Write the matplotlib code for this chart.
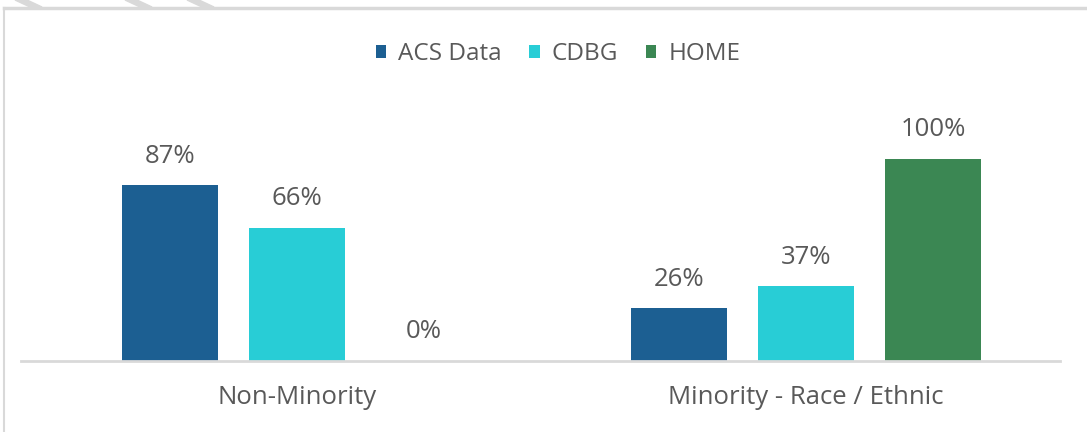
import matplotlib.pyplot as plt
from matplotlib.patches import Polygon
from matplotlib.lines import Line2D
import numpy as np

# Data
categories = ['Non-Minority', 'Minority - Race / Ethnic']
series = ['ACS Data', 'CDBG', 'HOME']
acs = [0.87, 0.26]
cdbg = [0.66, 0.37]
home = [0.00, 1.00]
colors = ['#1C5F92', '#28CDD6', '#3B8753']

plt.rcParams['font.family'] = ['Open Sans', 'DejaVu Sans']
text_col = '#595959'
fs = 18.5

fig = plt.figure(figsize=(10.87, 4.32), dpi=100)
W, H = 1087, 432

# axes placed in pixel terms: baseline at y=361, plot from x=21 to 1060
ax = fig.add_axes([21 / W, 1 - 361 / H, (1060 - 21) / W, (361 - 80) / H])

x = np.arange(len(categories))
step = 0.25
width = 0.189
for i, (name, vals) in enumerate(zip(series, [acs, cdbg, home])):
    pos = x + (i - 1) * step
    bars = ax.bar(pos, vals, width, color=colors[i], label=name, zorder=2)
    for b, v in zip(bars, vals):
        ax.annotate('{:.0%}'.format(v), (b.get_x() + b.get_width() / 2, v),
                    xytext=(0, 12), textcoords='offset points',
                    ha='center', va='bottom', fontsize=fs, color=text_col)

ax.set_xlim(-0.542, 1.499)
ax.set_ylim(0, 281 / 202)
ax.set_yticks([])
ax.set_xticks(x)
ax.set_xticklabels(categories, fontsize=fs, color=text_col)
ax.tick_params(axis='x', length=0, pad=17)
for s in ['top', 'right', 'left']:
    ax.spines[s].set_visible(False)
ax.spines['bottom'].set_color('#D9D9D9')
ax.spines['bottom'].set_linewidth(2)

leg = fig.legend(loc='center', bbox_to_anchor=(558 / W, 1 - 54 / H), ncol=3, frameon=False,
                 fontsize=17.5, handlelength=0.42, handleheight=0.42, handletextpad=0.5,
                 columnspacing=1.15)
for t in leg.get_texts():
    t.set_color(text_col)

# frame lines and screenshot artifacts at the top
fig.add_artist(Line2D([4 / W, 1], [1 - 8 / H, 1 - 8 / H], color='#D9D9D9', lw=2.5,
                      transform=fig.transFigure))
fig.add_artist(Line2D([4 / W, 4 / W], [1 - 8 / H, 0], color='#D9D9D9', lw=1.5,
                      transform=fig.transFigure))
for x0 in [15, 125, 187]:
    pts = [(x0 / W, 1), ((x0 + 12) / W, 1), ((x0 + 27) / W, 1 - 7 / H), ((x0 + 15) / W, 1 - 7 / H)]
    fig.add_artist(Polygon(pts, closed=True, color='#D9D9D9', transform=fig.transFigure))

plt.savefig('out.png', dpi=100)
